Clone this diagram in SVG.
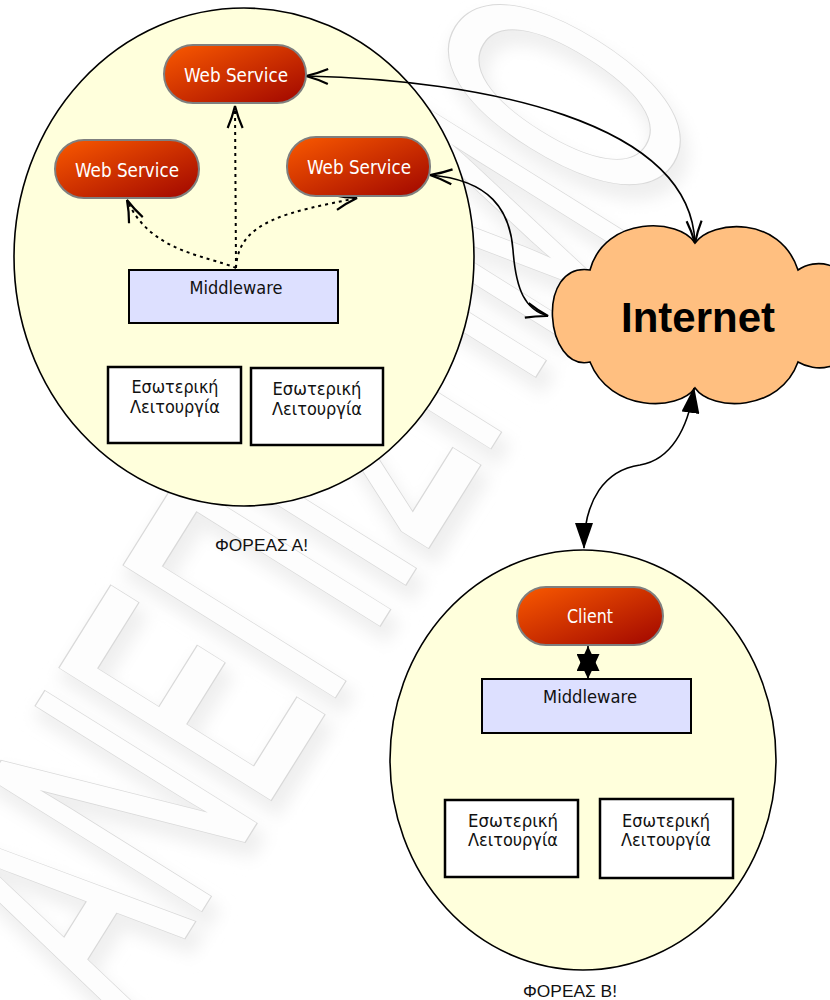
<svg xmlns="http://www.w3.org/2000/svg" width="830" height="1000" viewBox="0 0 830 1000">
  <style>
    .domain { fill: #ffffdc; stroke: #000; stroke-width: 1.6; }
    .pill { fill: url(#pillFill); stroke: #7f7f7f; stroke-width: 2; }
    .pillText { font-family: "DejaVu Sans", Verdana, sans-serif; font-size: 20px; fill: #fff; text-anchor: middle; }
    .mw { fill: #dde0ff; stroke: #000; stroke-width: 2; }
    .box { fill: #fff; stroke: #000; stroke-width: 2.5; }
    .label { font-family: "DejaVu Sans", Verdana, sans-serif; font-size: 18.5px; fill: #111; text-anchor: middle; }
    .caption { font-family: "Liberation Sans", Arial, sans-serif; font-size: 17px; fill: #111; }
    .link { fill: none; stroke: #000; stroke-width: 1.6; }
    .dotted { fill: none; stroke: #000; stroke-width: 2; stroke-dasharray: 3 4; }
    .wm { font-family: "Liberation Sans", Arial, sans-serif; font-size: 355px; }
  </style>
  <defs>
    <linearGradient id="pillFill" x1="0" y1="0" x2="1" y2="1">
      <stop offset="0" stop-color="#fa5a00"/>
      <stop offset="1" stop-color="#a00600"/>
    </linearGradient>
    <filter id="haze" x="-20%" y="-20%" width="140%" height="140%">
      <feGaussianBlur stdDeviation="8"/>
    </filter>
    <marker id="openArrow" viewBox="0 0 26 18" markerWidth="26" markerHeight="18" refX="24" refY="9" orient="auto-start-reverse" markerUnits="userSpaceOnUse">
      <path d="M2,1.5 Q12,6 24,9 Q12,12 2,16.5" fill="none" stroke="#000" stroke-width="2.2"/>
    </marker>
    <marker id="solidArrow" viewBox="0 0 26 18" markerWidth="26" markerHeight="18" refX="25" refY="9" orient="auto-start-reverse" markerUnits="userSpaceOnUse">
      <path d="M0,0 L26,9 L0,18 z" fill="#000"/>
    </marker>
    <marker id="starArrow" viewBox="0 0 25 23" markerWidth="25" markerHeight="23" refX="25" refY="11.5" orient="auto-start-reverse" markerUnits="userSpaceOnUse">
      <path d="M0,0 L25,11.5 L0,23 z" fill="#000"/>
    </marker>
  </defs>

  <rect width="830" height="1000" fill="#fff"/>

  <!-- faint outlined background watermark -->
  <g id="watermark" transform="translate(128,1024) rotate(-58)">
    <text class="wm" x="-8" y="10" textLength="1090" lengthAdjust="spacingAndGlyphs" fill="#efefef" stroke="#efefef" stroke-width="16" filter="url(#haze)">ΑΝΕΠΙΣΗΜΟ</text>
    <text class="wm" x="0" y="0" textLength="1090" lengthAdjust="spacingAndGlyphs" fill="none" stroke="#d9d9d9" stroke-width="7.5">ΑΝΕΠΙΣΗΜΟ</text>
    <text class="wm" x="0" y="0" textLength="1090" lengthAdjust="spacingAndGlyphs" fill="#fdfdfd" stroke="#fdfdfd" stroke-width="5">ΑΝΕΠΙΣΗΜΟ</text>
  </g>

  <!-- organisation A -->
  <g id="domainA">
    <ellipse class="domain" cx="244" cy="257" rx="230" ry="249"/>
  </g>
  <!-- organisation B -->
  <g id="domainB">
    <ellipse class="domain" cx="583" cy="760" rx="193" ry="210"/>
  </g>

  <g id="internet">
    <path d="M695,243 C712,220 780,215 798,270 C815,258 845,262 850,290 L850,340 C845,372 815,372 798,362 C780,412 712,412 695,388 C678,412 610,412 590,362 C545,372 535,262 590,270 C605,215 680,218 695,243 Z" fill="#ffbf80" stroke="#000" stroke-width="1.6"/>
    <text x="698" y="332" font-family="'Liberation Sans', Arial, sans-serif" font-size="42" font-weight="bold" fill="#000" text-anchor="middle">Internet</text>
  </g>

  <!-- connectors -->
  <g id="connectors">
    <path class="link" d="M306,76 C480,80 690,120 695,243" marker-start="url(#openArrow)" marker-end="url(#openArrow)"/>
    <path class="link" d="M430,175 C490,180 510,210 513,250 C516,290 525,310 548,316" marker-start="url(#openArrow)" marker-end="url(#openArrow)"/>
    <path class="link" d="M694,388 C688,430 670,460 640,465 C605,470 584,500 584,548" marker-start="url(#solidArrow)" marker-end="url(#solidArrow)"/>
    <path class="dotted" d="M236,268 L235,106" marker-end="url(#openArrow)"/>
    <path class="dotted" d="M236,268 C205,255 150,252 127,200" marker-end="url(#openArrow)"/>
    <path class="dotted" d="M236,268 C238,220 290,212 357,198" marker-end="url(#openArrow)"/>
    <path class="link" d="M588,679 L588,646" marker-start="url(#starArrow)" marker-end="url(#starArrow)"/>
  </g>

  <g id="wsTop">
    <rect class="pill" x="164" y="45" width="142" height="58" rx="29"/>
    <text class="pillText" x="236" y="82" textLength="104" lengthAdjust="spacingAndGlyphs">Web Service</text>
  </g>
  <g id="wsLeft">
    <rect class="pill" x="55" y="140" width="144" height="58" rx="29"/>
    <text class="pillText" x="127" y="177" textLength="104" lengthAdjust="spacingAndGlyphs">Web Service</text>
  </g>
  <g id="wsRight">
    <rect class="pill" x="287" y="137" width="143" height="59" rx="29"/>
    <text class="pillText" x="359" y="174" textLength="104" lengthAdjust="spacingAndGlyphs">Web Service</text>
  </g>

  <g id="middlewareA">
    <rect class="mw" x="129" y="270" width="209" height="53"/>
    <text class="label" x="236" y="294" textLength="93" lengthAdjust="spacingAndGlyphs">Middleware</text>
  </g>
  <g id="internalA1">
    <rect class="box" x="108" y="367" width="133" height="76"/>
    <text class="label" x="175" y="393" textLength="87" lengthAdjust="spacingAndGlyphs">Εσωτερική</text>
    <text class="label" x="175" y="413" textLength="90" lengthAdjust="spacingAndGlyphs">Λειτουργία</text>
  </g>
  <g id="internalA2">
    <rect class="box" x="251" y="368" width="132" height="77"/>
    <text class="label" x="317" y="395" textLength="89" lengthAdjust="spacingAndGlyphs">Εσωτερική</text>
    <text class="label" x="317" y="415" textLength="90" lengthAdjust="spacingAndGlyphs">Λειτουργία</text>
  </g>
  <text class="caption" x="215" y="551" textLength="93" lengthAdjust="spacingAndGlyphs">ΦΟΡΕΑΣ Α!</text>

  <g id="client">
    <rect class="pill" x="517" y="587" width="146" height="58" rx="29"/>
    <text class="pillText" x="590" y="623" textLength="46" lengthAdjust="spacingAndGlyphs">Client</text>
  </g>
  <g id="middlewareB">
    <rect class="mw" x="482" y="679" width="209" height="54"/>
    <text class="label" x="590" y="703" textLength="94" lengthAdjust="spacingAndGlyphs">Middleware</text>
  </g>
  <g id="internalB1">
    <rect class="box" x="445" y="800" width="133" height="77"/>
    <text class="label" x="513" y="827" textLength="90" lengthAdjust="spacingAndGlyphs">Εσωτερική</text>
    <text class="label" x="513" y="846" textLength="90" lengthAdjust="spacingAndGlyphs">Λειτουργία</text>
  </g>
  <g id="internalB2">
    <rect class="box" x="600" y="799" width="133" height="79"/>
    <text class="label" x="666" y="827" textLength="88" lengthAdjust="spacingAndGlyphs">Εσωτερική</text>
    <text class="label" x="666" y="846" textLength="90" lengthAdjust="spacingAndGlyphs">Λειτουργία</text>
  </g>
  <text class="caption" x="523" y="997" textLength="94" lengthAdjust="spacingAndGlyphs">ΦΟΡΕΑΣ Β!</text>
</svg>
